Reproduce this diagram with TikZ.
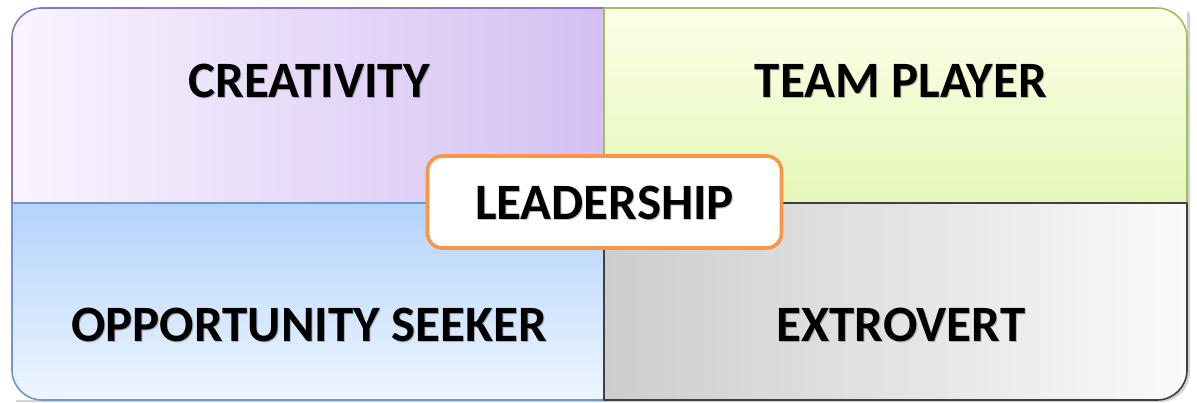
\documentclass[tikz,border=0pt]{standalone}
\usepackage{fontspec}
\setmainfont{Carlito}
\usetikzlibrary{shadows}
\definecolor{tlL}{HTML}{F9F4FF}
\definecolor{tlR}{HTML}{D4C0F2}
\definecolor{tlB}{HTML}{8E74C4}
\definecolor{trT}{HTML}{FBFFE8}
\definecolor{trB}{HTML}{E6F7B8}
\definecolor{trD}{HTML}{9CC15E}
\definecolor{blT}{HTML}{B3D3FA}
\definecolor{blB}{HTML}{EDF6FF}
\definecolor{blD}{HTML}{6F95C9}
\definecolor{brL}{HTML}{CDCDCD}
\definecolor{brR}{HTML}{FAFAFA}
\definecolor{brD}{HTML}{3F3F3F}
\definecolor{orangeD}{HTML}{F79646}
\tikzset{
  quad/.style={line width=1.6pt, line join=round},
  lbl/.style={font=\bfseries\fontsize{51}{56}\selectfont, text=black, inner sep=0pt},
  lblshadow/.style={font=\bfseries\fontsize{51}{56}\selectfont, text=black, inner sep=0pt, opacity=0.25},
  centerbox/.style={draw=orangeD, line width=3.6pt, fill=white, rounded corners=15pt,
    minimum width=354pt, minimum height=92pt, inner sep=0pt,
    drop shadow={shadow xshift=1.5pt, shadow yshift=-1.5pt, opacity=0.25}}
}
\begin{document}
\begin{tikzpicture}[x=1pt,y=1pt]
\useasboundingbox (0,0) rectangle (1197,402);
% shadow of whole block
\fill[black!35, opacity=0.5] (16,0) -- (1160,0) arc[start angle=-90,end angle=0,radius=30] -- (1190,388) -- (1187,391) -- (1187,32) -- (1157,2) -- (16,2) -- cycle;
% top-left
\path[quad, left color=tlL, right color=tlR, draw=tlB]
  (604,199) -- (12,199) -- (12,364) arc[start angle=180,end angle=90,radius=30] -- (604,394) -- cycle;
% top-right
\path[quad, top color=trT, bottom color=trB, draw=trD]
  (604,199) -- (604,394) -- (1157,394) arc[start angle=90,end angle=0,radius=30] -- (1187,199) -- cycle;
% bottom-left
\path[quad, top color=blT, bottom color=blB, draw=blD]
  (604,199) -- (604,2) -- (42,2) arc[start angle=270,end angle=180,radius=30] -- (12,199) -- cycle;
% bottom-right
\path[quad, left color=brL, right color=brR, draw=brD]
  (604,199) -- (1187,199) -- (1187,32) arc[start angle=0,end angle=-90,radius=30] -- (604,2) -- cycle;
% labels
\node[lblshadow] at (310,320) {CREATIVITY};
\node[lbl] (creat) at (309,321) {CREATIVITY};
\node[lblshadow] at (902,320) {TEAM PLAYER};
\node[lbl] (team) at (901,321) {TEAM PLAYER};
\node[lblshadow] at (310,76) {OPPORTUNITY SEEKER};
\node[lbl] (opp) at (309,77) {OPPORTUNITY SEEKER};
\node[lblshadow] at (902,76) {EXTROVERT};
\node[lbl] (extro) at (901,77) {EXTROVERT};
% center
\node[centerbox] (lead) at (604.5,200) {};
\node[lblshadow] at (605.5,198) {LEADERSHIP};
\node[lbl] (leadtxt) at (604.5,199) {LEADERSHIP};
\end{tikzpicture}
\end{document}
